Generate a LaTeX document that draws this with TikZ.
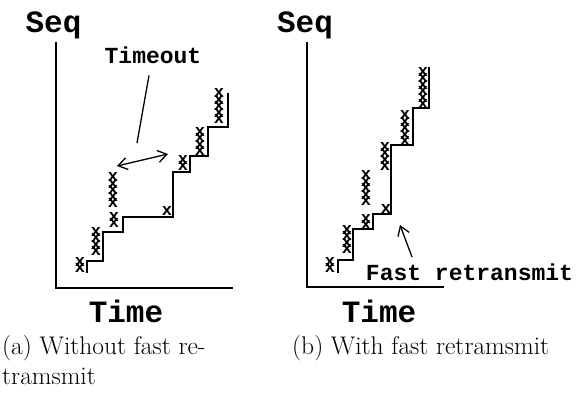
\documentclass[tikz,border=0pt]{standalone}
\usepackage{fontspec}
\newfontfamily\courfam{Liberation Mono}
\usetikzlibrary{arrows.meta}

% a vertical run of packet marks: name, x, bottom y, count
\newcommand\pktstack[4]{%
  \foreach \k in {1,...,#4}{%
    \node[pkt] (#1-\k) at (#2,{#3-3.5-6.5*(\k-1)}) {x};
  }%
}

\begin{document}
\begin{tikzpicture}[x=1pt,y=-1pt,
  axis/.style={line width=1.3pt},
  stair/.style={line width=2pt,line join=miter},
  bigtt/.style={font=\courfam\bfseries\fontsize{31}{31}\selectfont,inner sep=0pt},
  midtt/.style={font=\courfam\bfseries\fontsize{23}{23}\selectfont,inner sep=0pt},
  pkt/.style={font=\courfam\bfseries\fontsize{17}{17}\selectfont,inner sep=0pt},
  captext/.style={font=\fontsize{25.5}{30}\selectfont,inner sep=0pt},
  barb/.style={line width=1.3pt,-{Straight Barb[length=9pt,width=12pt]}},
  dbarb/.style={line width=1.3pt,{Straight Barb[length=9pt,width=12pt]}-{Straight Barb[length=9pt,width=12pt]}}]
\useasboundingbox (0,0) rectangle (585,401);

% ---------- (a) without fast retransmit ----------
\node[bigtt,anchor=base] (seqA) at (53.5,33) {Seq};
\node[bigtt,anchor=base] (timeA) at (126,322) {Time};
\draw[axis] (56,42) -- (56,288) -- (233,288);

\draw[stair] (87,273) -- (87,261) -- (103,261) -- (103,232) -- (123,232)
  -- (123,217) -- (173,217) -- (173,172) -- (190,172) -- (190,156)
  -- (208,156) -- (208,127) -- (228,127) -- (228,93);

\pktstack{a1}{80}{272}{2}
\pktstack{a2}{96}{255}{4}
\pktstack{a3}{114}{227}{2}
\pktstack{a4}{113}{207}{5}
\pktstack{a5}{167}{215}{1}
\pktstack{a6}{183}{170}{2}
\pktstack{a7}{200}{155}{4}
\pktstack{a8}{219}{123}{5}

\node[midtt,anchor=base] (tmo) at (153,64) {Timeout};
\coordinate (tmoFoot) at (137,143);
\draw[line width=1.3pt] ([xshift=-4pt,yshift=-11pt]tmo.south) -- (tmoFoot);
\coordinate (gapL) at (117,166);
\coordinate (gapR) at (168,154);
\draw[dbarb] (gapL) -- (gapR);

\node[captext,anchor=base west] (capA1) at (2,354) {(a) Without fast re-};
\node[captext,anchor=base west] (capA2) at (2,384) {tramsmit};

% ---------- (b) with fast retransmit ----------
\node[bigtt,anchor=base] (seqB) at (305,33) {Seq};
\node[bigtt,anchor=base] (timeB) at (379,322) {Time};
\draw[axis] (307,42) -- (307,287) -- (444,287);

\draw[stair] (338,273) -- (338,260) -- (353,260) -- (353,229) -- (373,229)
  -- (373,214) -- (391,214) -- (391,145) -- (413,145) -- (413,108)
  -- (429,108) -- (429,67);

\pktstack{b1}{330}{272}{2}
\pktstack{b2}{347}{253}{4}
\pktstack{b3}{366}{229}{2}
\pktstack{b4}{366}{205}{5}
\pktstack{b5}{386}{213}{1}
\pktstack{b6}{385}{170}{4}
\pktstack{b7}{405}{145}{5}
\pktstack{b8}{423}{108}{6}

\node[midtt,anchor=base] (frt) at (469.5,280) {Fast retransmit};
\coordinate (frtTail) at (412,257);
\coordinate (frtTip) at (400,225);
\draw[barb] (frtTail) -- (frtTip);

\node[captext,anchor=base west] (capB) at (292,354) {(b) With fast retramsmit};
\end{tikzpicture}
\end{document}
